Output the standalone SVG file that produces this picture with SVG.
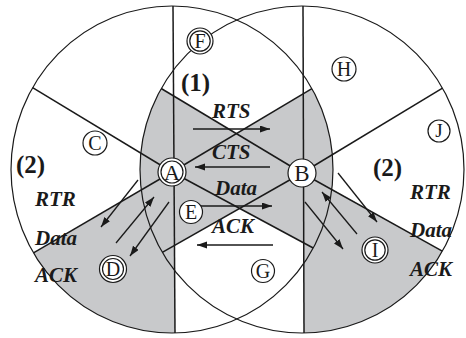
<svg xmlns="http://www.w3.org/2000/svg" width="466" height="338" viewBox="0 0 466 338">
  <defs>
    <marker id="head" markerUnits="userSpaceOnUse" markerWidth="11" markerHeight="8" refX="10" refY="3.5" orient="auto">
      <path d="M0,0 L10,3.5 L0,7 Z" fill="#1a1a1a"/>
    </marker>
    <style>
      .zone { fill: #c8c9cb; stroke: none; }
      .range { fill: none; stroke: #1a1a1a; stroke-width: 1.2; }
      .ray { stroke: #1a1a1a; stroke-width: 1.5; fill: none; }
      .msg { stroke: #1a1a1a; stroke-width: 1.3; fill: none; marker-end: url(#head); }
      .lbl { font-family: "Liberation Serif", "Times New Roman", serif; font-weight: bold; font-style: italic; font-size: 21px; fill: #1a1a1a; }
      .step { font-family: "Liberation Serif", "Times New Roman", serif; font-weight: bold; font-size: 25px; fill: #1a1a1a; }
      .ring { fill: #fff; stroke: #1a1a1a; stroke-width: 1.2; }
      .inner { fill: none; stroke: #1a1a1a; stroke-width: 1.2; }
      .nl { font-family: "Liberation Serif", "Times New Roman", serif; font-size: 20px; fill: #1a1a1a; text-anchor: middle; }
    </style>
  </defs>
  <rect width="466" height="338" fill="#fff"/>

  <!-- shaded sectors -->
  <g id="sectors">
    <path class="zone" d="M172,172 L311.9,88.6 A161,163.5 0 0 1 313.2,248 Z"/>
    <path class="zone" d="M302,173 L162.3,252.4 A162,163.5 0 0 1 161.2,88.5 Z"/>
    <path class="zone" d="M174,172 L175,333 A161,163.5 0 0 1 33.5,252.9 Z"/>
    <path class="zone" d="M303.5,173 L442.3,251.2 A162,163.5 0 0 1 304,333 Z"/>
  </g>

  <!-- transmission ranges -->
  <g id="ranges">
    <ellipse class="range" cx="172" cy="169.5" rx="161" ry="163.5"/>
    <ellipse class="range" cx="302" cy="169.5" rx="162" ry="163.5"/>
  </g>

  <!-- sector boundaries -->
  <g id="rays">
    <line class="ray" x1="172" y1="172" x2="32.6" y2="87.7"/>
    <line class="ray" x1="172" y1="172" x2="33.5" y2="252.9"/>
    <line class="ray" x1="172" y1="172" x2="311.9" y2="88.6"/>
    <line class="ray" x1="172" y1="172" x2="313.2" y2="248"/>
    <line class="ray" x1="173" y1="6" x2="175" y2="333"/>
    <line class="ray" x1="302" y1="173" x2="161.2" y2="88.5"/>
    <line class="ray" x1="302" y1="173" x2="162.3" y2="252.4"/>
    <line class="ray" x1="302" y1="173" x2="442.5" y2="88.1"/>
    <line class="ray" x1="302" y1="173" x2="442.3" y2="251.2"/>
    <line class="ray" x1="303" y1="6" x2="304" y2="333"/>
  </g>

  <!-- message arrows -->
  <g id="connectors">
    <line class="msg" x1="193" y1="129" x2="270" y2="129"/>
    <line class="msg" x1="270" y1="167" x2="195" y2="167"/>
    <line class="msg" x1="200" y1="206" x2="272" y2="206"/>
    <line class="msg" x1="273" y1="245" x2="197" y2="245"/>
    <line class="msg" x1="138" y1="180" x2="101" y2="227"/>
    <line class="msg" x1="116" y1="243" x2="154" y2="197"/>
    <line class="msg" x1="169" y1="202" x2="130" y2="256"/>
    <line class="msg" x1="338" y1="173" x2="377" y2="222"/>
    <line class="msg" x1="357" y1="234" x2="322" y2="192"/>
    <line class="msg" x1="305" y1="202" x2="343" y2="249"/>
  </g>

  <!-- labels -->
  <g id="labels">
    <text class="step" x="181" y="91">(1)</text>
    <text class="step" x="16" y="173">(2)</text>
    <text class="step" x="373" y="176">(2)</text>
    <text class="lbl" x="212" y="118">RTS</text>
    <text class="lbl" x="212" y="159">CTS</text>
    <text class="lbl" x="215" y="195">Data</text>
    <text class="lbl" x="212" y="233">ACK</text>
    <text class="lbl" x="35" y="206">RTR</text>
    <text class="lbl" x="35" y="245">Data</text>
    <text class="lbl" x="35" y="282">ACK</text>
    <text class="lbl" x="410" y="199">RTR</text>
    <text class="lbl" x="410" y="237">Data</text>
    <text class="lbl" x="410" y="276">ACK</text>
  </g>

  <!-- nodes -->
  <g id="node-A">
    <circle class="ring" cx="172" cy="172" r="14"/>
    <circle class="inner" cx="172" cy="172" r="11"/>
    <text class="nl" x="172" y="179.5" style="font-size:22px">A</text>
  </g>
  <g id="node-B">
    <circle class="ring" cx="302" cy="173" r="14"/>
    <text class="nl" x="302" y="181" style="font-size:23px">B</text>
  </g>
  <g id="node-C">
    <circle class="ring" cx="95" cy="143" r="12"/>
    <text class="nl" x="95" y="149.6">C</text>
  </g>
  <g id="node-D">
    <circle class="ring" cx="113" cy="269" r="13.5"/>
    <circle class="inner" cx="113" cy="269" r="10.5"/>
    <text class="nl" x="113" y="275.6">D</text>
  </g>
  <g id="node-E">
    <circle class="ring" cx="191" cy="212" r="11.5"/>
    <text class="nl" x="191" y="218.6">E</text>
  </g>
  <g id="node-F">
    <circle class="ring" cx="200" cy="41" r="13"/>
    <circle class="inner" cx="200" cy="41" r="10.2"/>
    <text class="nl" x="200" y="47.6">F</text>
  </g>
  <g id="node-G">
    <circle class="ring" cx="263" cy="271" r="11.5"/>
    <text class="nl" x="263" y="277.6">G</text>
  </g>
  <g id="node-H">
    <circle class="ring" cx="344" cy="69" r="12"/>
    <text class="nl" x="344" y="75.6">H</text>
  </g>
  <g id="node-I">
    <circle class="ring" cx="375" cy="250" r="13"/>
    <circle class="inner" cx="375" cy="250" r="10.2"/>
    <text class="nl" x="375" y="256.6">I</text>
  </g>
  <g id="node-J">
    <circle class="ring" cx="439" cy="131" r="11"/>
    <text class="nl" x="439" y="137.3" style="font-size:19px">J</text>
  </g>
</svg>
